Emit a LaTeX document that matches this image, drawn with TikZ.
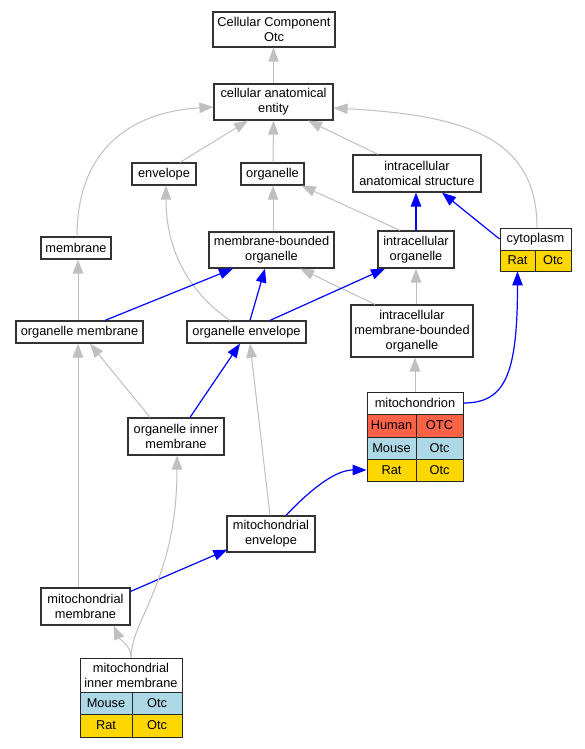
\documentclass[tikz,border=0pt]{standalone}
\usepackage{fontspec}
\setmainfont{Liberation Sans}
\usetikzlibrary{arrows.meta,calc}
\definecolor{human}{RGB}{255,99,71}
\definecolor{mouse}{RGB}{173,216,230}
\definecolor{rat}{RGB}{255,215,0}
\definecolor{edgegray}{RGB}{192,192,192}
\newcommand{\lab}{\fontsize{12.8}{15}\selectfont}
\tikzset{
  box/.style={draw=black!80, line width=1.2pt, fill=white, inner sep=0pt, align=center, font=\lab},
  cell/.style={draw=black!85, line width=0.9pt, inner sep=0pt, font=\lab},
  gedge/.style={draw=edgegray, line width=1pt, -{Triangle[length=14pt,width=10.5pt]}},
  bedge/.style={draw=blue, line width=1.2pt, -{Triangle[length=14pt,width=10.5pt]}},
}
\begin{document}
\begin{tikzpicture}[x=1pt,y=1pt]
\useasboundingbox[fill=white] (0,0) rectangle (585,-749);
% nodes
\node[box, minimum width=122, minimum height=35] (cco) at (274,-29.5) {Cellular Component\\Otc};
\node[box, minimum width=119, minimum height=36] (cae) at (273.5,-102) {cellular anatomical\\entity};
\node[box, minimum width=64, minimum height=22] (env) at (164,-174) {envelope};
\node[box, minimum width=63, minimum height=22] (org) at (272.5,-174) {organelle};
\node[box, minimum width=128, minimum height=37] (ias) at (417,-173.5) {intracellular\\anatomical structure};
\node[box, minimum width=70, minimum height=22] (mem) at (76,-248) {membrane};
\node[box, minimum width=125, minimum height=36] (mbo) at (271.5,-250) {membrane-bounded\\organelle};
\node[box, minimum width=76, minimum height=37] (io) at (416,-249.5) {intracellular\\organelle};
% cytoplasm table
\node[cell, fill=white, minimum width=71, minimum height=22] (cytoH) at (535.5,-239) {cytoplasm};
\node[cell, fill=rat, minimum width=35, minimum height=21] (cytoR) at (517.5,-260.5) {Rat};
\node[cell, fill=rat, minimum width=36, minimum height=21] (cytoO) at (553,-260.5) {Otc};
\node[box, minimum width=127, minimum height=22] (om) at (79.5,-332) {organelle membrane};
\node[box, minimum width=119, minimum height=22] (oe) at (246.5,-332) {organelle envelope};
\node[box, minimum width=122, minimum height=52] (imbo) at (412,-331) {intracellular\\membrane-bounded\\organelle};
% mitochondrion table
\node[cell, fill=white, minimum width=96, minimum height=22] (mitoH) at (415,-403) {mitochondrion};
\node[cell, fill=human, minimum width=49, minimum height=23] (mitoHu) at (391.5,-425.5) {Human};
\node[cell, fill=human, minimum width=47, minimum height=23] (mitoHuG) at (439.5,-425.5) {OTC};
\node[cell, fill=mouse, minimum width=49, minimum height=22] (mitoMo) at (391.5,-448) {Mouse};
\node[cell, fill=mouse, minimum width=47, minimum height=22] (mitoMoG) at (439.5,-448) {Otc};
\node[cell, fill=rat, minimum width=49, minimum height=22] (mitoRa) at (391.5,-470) {Rat};
\node[cell, fill=rat, minimum width=47, minimum height=22] (mitoRaG) at (439.5,-470) {Otc};
\node[box, minimum width=96, minimum height=37] (oim) at (176,-436.5) {organelle inner\\membrane};
\node[box, minimum width=88, minimum height=36] (me) at (271,-534) {mitochondrial\\envelope};
\node[box, minimum width=89, minimum height=37] (mm) at (85.5,-606.5) {mitochondrial\\membrane};
% mitochondrial inner membrane table
\node[cell, fill=white, align=center, minimum width=102, minimum height=34] (mimH) at (131,-675) {mitochondrial\\inner membrane};
\node[cell, fill=mouse, minimum width=52, minimum height=22] (mimMo) at (106,-703) {Mouse};
\node[cell, fill=mouse, minimum width=50, minimum height=22] (mimMoG) at (157,-703) {Otc};
\node[cell, fill=rat, minimum width=52, minimum height=23] (mimRa) at (106,-725.5) {Rat};
\node[cell, fill=rat, minimum width=50, minimum height=23] (mimRaG) at (157,-725.5) {Otc};
% edges
\draw[gedge] (cae.north) -- ($(cco.south)+(-0.5,0)$);
\draw[gedge] ($(env.north)+(16,0)$) -- ($(cae.south)+(-25.5,0)$);
\draw[gedge] ($(org.north)+(0.5,0)$) -- (cae.south);
\draw[gedge] ($(ias.north)+(-39,0)$) -- ($(cae.south)+(34.5,0)$);
\draw[gedge] ($(mem.north)+(1,0)$) .. controls (77,-150) and (130,-112) .. ($(cae.west)+(0,-5)$);
\draw[gedge] ($(cytoH.north)+(1.5,0)$) .. controls (537,-135) and (460,-115) .. ($(cae.east)+(0,-6)$);
\draw[gedge] ($(mbo.north)+(1.5,0)$) -- ($(org.south)+(0.5,0)$);
\draw[gedge] ($(io.north)+(-16,0)$) -- ($(org.south east)+(-3,0)$);
\draw[bedge] (io.north) -- ($(ias.south)+(-1,0)$);
\draw[bedge] (cytoH.west) -- ($(ias.south)+(25,0)$);
\draw[gedge] ($(oe.north)+(-16.5,0)$) .. controls (200,-300) and (166,-262) .. ($(env.south)+(2,0)$);
\draw[gedge] ($(om.north)+(-1.5,0)$) -- ($(mem.south)+(2,0)$);
\draw[bedge] ($(om.north)+(25.5,0)$) -- ($(mbo.south)+(-38.5,0)$);
\draw[bedge] ($(oe.north)+(3.5,0)$) -- ($(mbo.south)+(-6.5,0)$);
\draw[gedge] ($(imbo.north)+(-37,0)$) -- ($(mbo.south)+(28.5,0)$);
\draw[bedge] ($(oe.north)+(23.5,0)$) -- ($(io.south)+(-31,0)$);
\draw[gedge] ($(imbo.north)+(4,0)$) -- (io.south);
\draw[bedge] (mitoH.east) .. controls (505,-403) and (517.5,-375) .. (cytoR.south);
\draw[gedge] (mitoH.north) -- ($(imbo.south)+(3,0)$);
\draw[gedge] ($(oim.north)+(-26,0)$) -- ($(om.south)+(10.5,0)$);
\draw[bedge] ($(oim.north)+(14,0)$) -- ($(oe.south)+(-6.5,0)$);
\draw[gedge] ($(mm.north)+(-7.5,0)$) -- ($(om.south)+(-1.5,0)$);
\draw[gedge] ($(me.north)+(-1,0)$) -- ($(oe.south)+(3.5,0)$);
\draw[bedge] ($(me.north)+(15,0)$) .. controls (310,-490) and (335,-470) .. (mitoRa.west);
\draw[bedge] ($(mm.north east)+(0,-4)$) -- ($(me.south west)+(1,3)$);
\draw[gedge] (mimH.north) .. controls (131,-620) and (177,-580) .. ($(oim.south)+(1,0)$);
\draw[gedge] (mimH.north) .. controls (131,-645) and (120,-640) .. ($(mm.south)+(28,0)$);
\end{tikzpicture}
\end{document}
